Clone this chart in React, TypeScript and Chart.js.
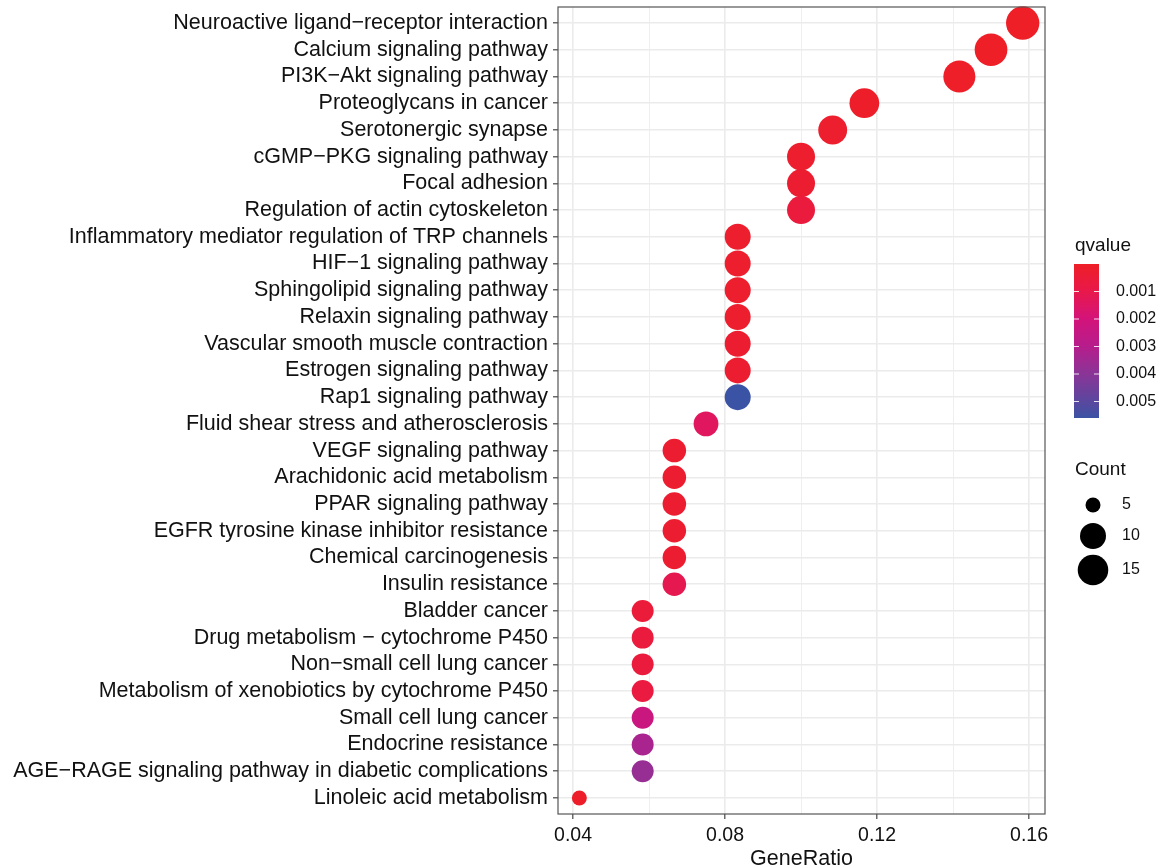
import React, { useEffect, useRef } from "react";
import { Chart, registerables } from "chart.js";

Chart.register(...registerables);

// ---------- data ----------
const pathways = [
  "Neuroactive ligand−receptor interaction",
  "Calcium signaling pathway",
  "PI3K−Akt signaling pathway",
  "Proteoglycans in cancer",
  "Serotonergic synapse",
  "cGMP−PKG signaling pathway",
  "Focal adhesion",
  "Regulation of actin cytoskeleton",
  "Inflammatory mediator regulation of TRP channels",
  "HIF−1 signaling pathway",
  "Sphingolipid signaling pathway",
  "Relaxin signaling pathway",
  "Vascular smooth muscle contraction",
  "Estrogen signaling pathway",
  "Rap1 signaling pathway",
  "Fluid shear stress and atherosclerosis",
  "VEGF signaling pathway",
  "Arachidonic acid metabolism",
  "PPAR signaling pathway",
  "EGFR tyrosine kinase inhibitor resistance",
  "Chemical carcinogenesis",
  "Insulin resistance",
  "Bladder cancer",
  "Drug metabolism − cytochrome P450",
  "Non−small cell lung cancer",
  "Metabolism of xenobiotics by cytochrome P450",
  "Small cell lung cancer",
  "Endocrine resistance",
  "AGE−RAGE signaling pathway in diabetic complications",
  "Linoleic acid metabolism",
];

const counts = [19, 18, 17, 14, 13, 12, 12, 12, 10, 10, 10, 10, 10, 10, 10, 9, 8, 8, 8, 8, 8, 8, 7, 7, 7, 7, 7, 7, 7, 5];
const geneSetSize = 120;

const qvalues = [
  0.00002, 0.00002, 0.00005, 0.0001, 0.0002, 0.0002, 0.0003, 0.0006, 0.0002, 0.0002,
  0.0002, 0.0002, 0.0003, 0.0003, 0.0056, 0.0014, 0.0003, 0.0003, 0.0003, 0.0003,
  0.0003, 0.0011, 0.0005, 0.0006, 0.0006, 0.0007, 0.0023, 0.0033, 0.0037, 0.0001,
];

const xTicks = [0.04, 0.06, 0.08, 0.1, 0.12, 0.14, 0.16];
const xMajor = [0.04, 0.08, 0.12, 0.16];
const qTicks = [0.001, 0.002, 0.003, 0.004, 0.005];
const countBreaks = [5, 10, 15];

// ---------- styles ----------
const qRange = [0, 0.0056];
const qStops = [0, 0.001, 0.002, 0.003, 0.004, 0.005, 0.0056];
const qColors = ["#EE1F26", "#E8184B", "#D3137A", "#B61D8C", "#8A3597", "#5A479F", "#3B53A4"];
const FONT = "'Liberation Sans', Arial, Helvetica, sans-serif";

function hexToRgb(h: string) {
  const n = parseInt(h.slice(1), 16);
  return [(n >> 16) & 255, (n >> 8) & 255, n & 255];
}

function qColor(q: number) {
  if (q <= qStops[0]) return qColors[0];
  for (let i = 1; i < qStops.length; i++) {
    if (q <= qStops[i]) {
      const t = (q - qStops[i - 1]) / (qStops[i] - qStops[i - 1]);
      const a = hexToRgb(qColors[i - 1]);
      const b = hexToRgb(qColors[i]);
      const c = a.map((v, k) => Math.round(v + (b[k] - v) * t));
      return `rgb(${c[0]},${c[1]},${c[2]})`;
    }
  }
  return qColors[qColors.length - 1];
}

const cMin = Math.min(...counts);
const cMax = Math.max(...counts);
function sizeOf(c: number) {
  const t = Math.max(0, (c - cMin) / (cMax - cMin));
  return 7.5 + 9.2 * Math.sqrt(t);
}

const isMajor = (v: number) => xMajor.some((m) => Math.abs(m - v) < 1e-9);

const legendPlugin = {
  id: "ggLegend",
  afterDraw(chart: any) {
    const { ctx, chartArea } = chart;
    ctx.save();
    // panel border
    ctx.strokeStyle = "#555";
    ctx.lineWidth = 1.2;
    ctx.strokeRect(chartArea.left, chartArea.top, chartArea.right - chartArea.left, chartArea.bottom - chartArea.top);

    // qvalue colorbar
    const bx = 1074, bw = 25, by0 = 264, by1 = 418;
    ctx.fillStyle = "#111";
    ctx.textBaseline = "middle";
    ctx.textAlign = "left";
    ctx.font = `19px ${FONT}`;
    ctx.fillText("qvalue", 1075, 246);
    const grad = ctx.createLinearGradient(0, by0, 0, by1);
    qStops.forEach((s, i) => grad.addColorStop((s - qRange[0]) / (qRange[1] - qRange[0]), qColors[i]));
    ctx.fillStyle = grad;
    ctx.fillRect(bx, by0, bw, by1 - by0);
    ctx.font = `16px ${FONT}`;
    qTicks.forEach((q) => {
      const y = by0 + ((q - qRange[0]) / (qRange[1] - qRange[0])) * (by1 - by0);
      ctx.strokeStyle = "rgba(255,255,255,0.85)";
      ctx.lineWidth = 1;
      ctx.beginPath();
      ctx.moveTo(bx, y);
      ctx.lineTo(bx + 5, y);
      ctx.moveTo(bx + bw - 5, y);
      ctx.lineTo(bx + bw, y);
      ctx.stroke();
      ctx.fillStyle = "#111";
      ctx.fillText(q.toFixed(3), 1116, y);
    });

    // Count legend
    ctx.font = `19px ${FONT}`;
    ctx.fillText("Count", 1075, 470);
    const ys = [505, 536, 570];
    ctx.font = `16px ${FONT}`;
    countBreaks.forEach((c, i) => {
      ctx.fillStyle = "#000";
      ctx.beginPath();
      ctx.arc(1093, ys[i], sizeOf(c), 0, Math.PI * 2);
      ctx.fill();
      ctx.fillStyle = "#111";
      ctx.fillText(String(c), 1122, ys[i]);
    });
    ctx.restore();
  },
};

export default function App() {
  const ref = useRef<HTMLCanvasElement | null>(null);
  useEffect(() => {
    document.body.style.margin = "0";
    const canvas = ref.current!;
    const data = pathways.map((_, i) => ({
      x: counts[i] / geneSetSize,
      y: i,
      r: sizeOf(counts[i]),
    }));
    const chart = new Chart(canvas, {
      type: "bubble",
      data: {
        datasets: [
          {
            data,
            backgroundColor: pathways.map((_, i) => qColor(qvalues[i])),
            borderWidth: 0,
            hoverBorderWidth: 0,
            clip: false,
          } as any,
        ],
      },
      options: {
        animation: false,
        responsive: false,
        events: [],
        layout: { autoPadding: false, padding: { left: 0, top: 7, right: 117, bottom: 0 } },
        plugins: { legend: { display: false }, tooltip: { enabled: false } },
        scales: {
          x: {
            type: "linear",
            min: 0.03605,
            max: 0.1642,
            afterBuildTicks: (scale: any) => {
              scale.ticks = xTicks.map((v) => ({ value: v }));
            },
            afterFit: (scale: any) => {
              scale.height = 54;
              scale.paddingLeft = 0;
              scale.paddingRight = 0;
            },
            ticks: {
              autoSkip: false,
              maxRotation: 0,
              padding: 5,
              color: "#111",
              font: { family: FONT, size: 19.5 },
              callback: (v: any) => (isMajor(v) ? Number(v).toFixed(2) : ""),
            },
            grid: {
              color: "#EBEBEB",
              lineWidth: (c: any) => (isMajor(c.tick?.value) ? 1.6 : 0.8),
              tickColor: (c: any) => (isMajor(c.tick?.value) ? "#444" : "rgba(0,0,0,0)"),
              tickLength: 5,
              tickWidth: 1.2,
            } as any,
            border: { display: false },
            title: {
              display: true,
              text: "GeneRatio",
              color: "#111",
              font: { family: FONT, size: 21.5 },
              padding: { top: 0, bottom: -4 },
            },
          },
          y: {
            type: "linear",
            reverse: true,
            min: -0.6,
            max: pathways.length - 1 + 0.6,
            afterBuildTicks: (scale: any) => {
              scale.ticks = pathways.map((_, i) => ({ value: i }));
            },
            afterFit: (scale: any) => {
              scale.width = 558;
              scale.paddingTop = 0;
              scale.paddingBottom = 0;
            },
            ticks: {
              autoSkip: false,
              padding: 5,
              color: "#111",
              font: { family: FONT, size: 21.5 },
              callback: (v: any) => pathways[v as number] ?? "",
            },
            grid: {
              color: "#EBEBEB",
              lineWidth: 1.6,
              tickColor: "#444",
              tickLength: 5,
              tickWidth: 1.2,
            } as any,
            border: { display: false },
          },
        },
      } as any,
      plugins: [legendPlugin],
    });
    return () => chart.destroy();
  }, []);

  return (
    <div style={{ width: 1162, height: 868, background: "#fff" }}>
      <canvas ref={ref} width={1162} height={868} style={{ display: "block" }} />
    </div>
  );
}
